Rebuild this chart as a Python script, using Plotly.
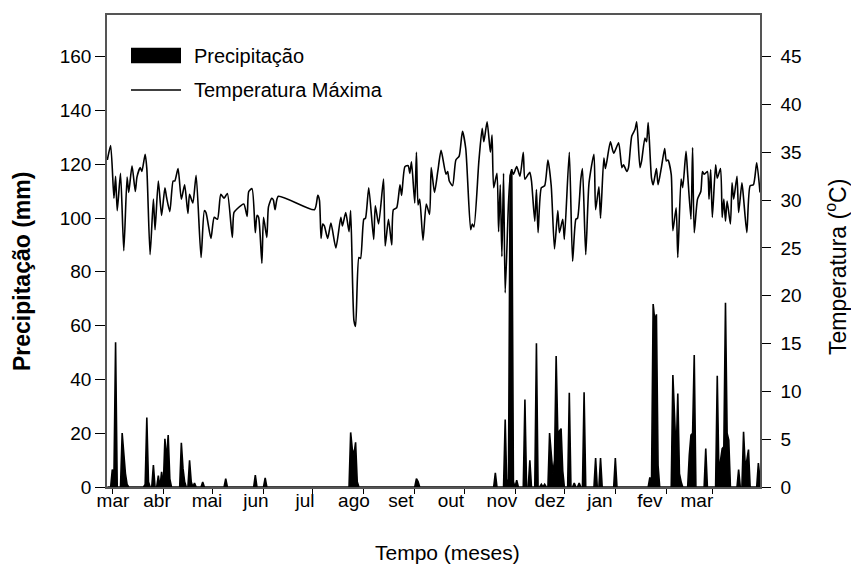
import pandas as pd
import plotly.graph_objects as go

# ---------------- data ----------------
# day offsets counted from 1 March (first year)
temp_days = [-3, -1, 1, 2, 3, 5, 7, 9, 10, 12, 14, 15, 17, 18, 20, 21, 23, 25, 26, 28,
             30, 32, 33, 35, 37, 38, 40, 42, 44, 46, 47, 49, 51, 54, 56, 57, 60, 62, 64, 66,
             68, 70, 73, 74, 76, 80, 82, 83, 85, 87, 88, 89, 91, 92, 94, 95, 97, 98, 99, 101,
             123, 125, 126, 127, 128, 129, 131, 133, 136, 139, 140, 142, 144, 145, 147, 148, 150, 151, 153, 154,
             156, 159, 160, 162, 165, 166, 168, 170, 171, 173, 175, 176, 178, 180, 181, 182, 184, 185, 186, 187,
             189, 191, 193, 194, 196, 198, 200, 203, 204, 205, 207, 209, 211, 213, 215, 218, 219, 220, 223, 225,
             226, 228, 230, 231, 232, 234, 235, 236, 237, 238, 239, 241, 242, 243, 244, 246, 248, 250, 251, 253,
             254, 255, 257, 258, 259, 261, 263, 265, 267, 269, 271, 272, 274, 275, 278, 280, 282, 283, 285, 286,
             288, 290, 293, 294, 296, 297, 299, 300, 303, 305, 308, 310, 311, 313, 314, 316, 318, 319, 321, 322,
             324, 325, 326, 328, 329, 331, 332, 334, 336, 337, 338, 340, 341, 343, 344, 346, 347, 349, 350, 352,
             353, 354, 356, 358, 359, 360, 362, 363, 364, 365, 367, 368, 370, 371, 372, 373, 374, 376, 377, 378,
             380, 381, 383, 384, 386, 388, 390, 392, 394]
temp_vals = [34.2, 35.7, 30.2, 32.5, 28.9, 32.8, 24.7, 32.4, 30.8, 33.6, 30.9, 32.4, 33.4, 33.0, 34.8, 33.3, 24.3, 30.1, 26.9, 32.0,
             28.4, 31.3, 30.3, 28.8, 32.0, 32.0, 33.3, 30.1, 31.6, 28.6, 30.6, 29.7, 32.6, 24.0, 28.9, 28.7, 26.0, 28.2, 28.0, 30.6,
             30.2, 30.7, 26.1, 28.7, 29.1, 29.6, 28.3, 30.9, 31.2, 26.6, 28.4, 28.2, 23.4, 28.2, 26.1, 29.3, 30.2, 30.0, 29.0, 30.4,
             29.0, 30.5, 30.0, 26.0, 27.5, 27.3, 26.0, 27.6, 25.0, 28.2, 27.3, 28.7, 26.7, 28.9, 17.4, 16.8, 24.0, 23.9, 28.0, 28.1,
             31.3, 25.9, 29.4, 27.5, 32.2, 25.2, 28.0, 25.3, 29.0, 29.2, 31.6, 30.5, 33.5, 33.6, 32.8, 34.0, 29.7, 35.0, 29.5, 30.1,
             25.8, 29.6, 28.5, 33.4, 30.8, 33.0, 35.2, 32.7, 33.0, 32.0, 31.5, 34.2, 34.6, 37.2, 35.4, 26.9, 27.5, 27.2, 34.1, 37.5,
             36.1, 38.2, 35.0, 36.8, 31.3, 32.8, 26.7, 31.6, 24.1, 32.8, 20.3, 29.7, 32.3, 33.1, 32.7, 33.5, 32.5, 35.0, 32.2, 32.7,
             32.9, 32.0, 27.8, 31.1, 26.6, 31.3, 31.5, 34.2, 31.5, 24.9, 28.9, 26.6, 28.0, 25.9, 35.0, 23.6, 28.0, 28.1, 32.2, 33.3,
             24.3, 31.8, 34.8, 29.0, 31.4, 28.1, 34.4, 33.3, 36.1, 34.9, 36.0, 33.4, 33.7, 33.0, 33.4, 36.7, 37.4, 38.2, 33.4, 34.1,
             36.5, 36.1, 38.1, 32.3, 31.6, 33.3, 31.6, 33.4, 35.4, 34.1, 34.2, 32.7, 26.8, 29.2, 24.0, 32.2, 31.3, 35.1, 32.7, 28.0,
             35.5, 26.6, 30.1, 30.9, 33.0, 32.7, 33.0, 30.1, 33.2, 28.2, 33.7, 32.3, 33.3, 28.2, 30.1, 27.8, 29.9, 27.5, 31.8, 30.1,
             32.5, 28.7, 31.8, 30.2, 26.6, 31.5, 31.6, 33.9, 30.8]

# rainy days (all other days: 0 mm)
rain_days = [0, 1, 2, 6, 7, 8, 9, 20, 21, 22, 25, 28, 30, 32, 33, 34, 35, 42, 43, 44,
             47, 48, 50, 55, 69, 87, 93, 145, 146, 147, 148, 149, 185, 186, 233, 239, 241, 242, 243, 244,
             246, 251, 254, 258, 261, 263, 266, 267, 268, 269, 270, 271, 272, 273, 274, 278, 281, 284, 287, 294,
             297, 306, 327, 328, 329, 330, 331, 332, 341, 342, 343, 344, 345, 346, 351, 352, 353, 354, 361, 368,
             369, 370, 371, 372, 373, 374, 375, 381, 384, 385, 386, 387, 393, 394]
rain_vals = [6.5, 4.0, 53.8, 20.1, 12.0, 5.0, 1.0, 1.0, 25.8, 2.0, 8.2, 4.2, 5.6, 17.9, 10.0, 19.3, 3.0, 16.4, 7.0, 2.0,
             9.9, 2.0, 1.5, 1.9, 3.1, 4.4, 3.4, 20.3, 14.0, 12.0, 16.6, 2.0, 3.1, 2.0, 5.3, 25.1, 3.0, 115.8, 118.2, 2.0,
             2.5, 32.5, 9.9, 53.4, 1.0, 1.0, 20.1, 12.0, 5.0, 10.0, 48.7, 20.0, 21.0, 21.7, 6.0, 35.0, 1.5, 1.5, 35.2, 10.8,
             10.8, 10.8, 3.6, 1.0, 68.0, 62.0, 64.2, 8.0, 41.6, 25.0, 12.0, 34.8, 5.0, 2.0, 12.0, 19.3, 20.0, 49.1, 14.3, 41.4,
             5.0, 10.0, 14.3, 15.0, 68.5, 20.0, 17.4, 6.5, 20.5, 8.0, 10.0, 13.9, 8.9, 3.0]

month_labels = ["mar", "abr", "mai", "jun", "jul", "ago", "set", "out", "nov", "dez", "jan", "fev", "mar"]
# where the month labels sit in the reference (day offsets, they drift left of the ticks)
label_days = [0.4, 27.2, 57.6, 87.4, 117.2, 147.0, 175.6, 206.0, 237.0, 266.2, 296.6, 327.0, 355.6]

# ---------------- build series ----------------
origin = pd.Timestamp("2009-03-01")
temp_dates = [origin + pd.Timedelta(days=d) for d in temp_days]

all_days = list(range(-3, 395))
rain_map = dict(zip(rain_days, rain_vals))
rain_series = [rain_map.get(d, 0.0) for d in all_days]
rain_dates = [origin + pd.Timedelta(days=d) for d in all_days]

month_ticks = list(pd.date_range("2009-03-01", "2010-03-01", freq="MS"))
label_dates = [origin + pd.Timedelta(days=d) for d in label_days]

FONT = "Liberation Sans, Arial, sans-serif"
AXC = "#555555"
xrange = [origin - pd.Timedelta(days=3.22), origin + pd.Timedelta(days=394.0)]

fig = go.Figure()
fig.add_trace(go.Scatter(
    x=rain_dates, y=rain_series, name="Precipitação", mode="lines",
    line=dict(color="black", width=1.6), fill="tozeroy", fillcolor="black",
    showlegend=False, xaxis="x", yaxis="y"))
fig.add_trace(go.Scatter(
    x=temp_dates, y=temp_vals, name="Temperatura Máxima", mode="lines",
    line=dict(color="black", width=1.6, shape="spline", smoothing=0.6),
    showlegend=False, xaxis="x", yaxis="y2"))
# an invisible trace so that xaxis2 (month labels) is drawn
fig.add_trace(go.Scatter(x=[label_dates[0]], y=[None], xaxis="x2", yaxis="y",
                         mode="lines", showlegend=False, hoverinfo="skip"))

ytop = 175.5
fig.update_layout(
    width=851, height=569,
    margin=dict(l=107, r=91, t=15, b=82),
    paper_bgcolor="white", plot_bgcolor="white",
    font=dict(family=FONT, size=19, color="black"),
    xaxis=dict(
        type="date", range=xrange,
        tickvals=month_ticks, showticklabels=False,
        ticks="outside", ticklen=5, tickcolor="black", tickwidth=1,
        showline=True, linecolor=AXC, linewidth=1.5, mirror=True,
        showgrid=False, zeroline=False,
    ),
    xaxis2=dict(
        type="date", range=xrange, overlaying="x", anchor="y", side="bottom",
        tickvals=label_dates, ticktext=month_labels, ticks="",
        showline=False, showgrid=False, zeroline=False,
        tickfont=dict(size=19),
    ),
    yaxis=dict(
        range=[0, ytop], tickvals=list(range(0, 161, 20)),
        ticks="outside", ticklen=10, tickcolor="black", tickwidth=1,
        showline=True, linecolor=AXC, linewidth=1.5,
        showgrid=False, zeroline=False,
        tickfont=dict(size=19),
    ),
    yaxis2=dict(
        range=[0, ytop * 45 / 160], tickvals=list(range(0, 46, 5)),
        overlaying="y", side="right",
        ticks="outside", ticklen=9, tickcolor="black", tickwidth=1,
        ticklabelstandoff=6,
        showline=True, linecolor=AXC, linewidth=1.5,
        showgrid=False, zeroline=False,
        tickfont=dict(size=19),
    ),
)


def px_x(px):
    return (px - 107) / 653.0


def px_y(py):
    return (487 - py) / 472.0


# axis titles
fig.add_annotation(xref="paper", yref="paper", x=px_x(447), y=px_y(552),
                   text="Tempo (meses)", showarrow=False,
                   xanchor="center", yanchor="middle", font=dict(size=21, family=FONT))
fig.add_annotation(xref="paper", yref="paper", x=px_x(22), y=px_y(271),
                   text="<b>Precipitação (mm)</b>", textangle=-90, showarrow=False,
                   xanchor="center", yanchor="middle", font=dict(size=23, family=FONT))
fig.add_annotation(xref="paper", yref="paper", x=px_x(836), y=px_y(267),
                   text="Temperatura (<sup>o</sup>C)", textangle=-90, showarrow=False,
                   xanchor="center", yanchor="middle", font=dict(size=23, family=FONT))

# legend (drawn to match the reference's large symbols)
fig.add_shape(type="rect", xref="paper", yref="paper",
              x0=px_x(131), x1=px_x(181), y0=px_y(63.3), y1=px_y(47.7),
              fillcolor="black", line=dict(width=0))
fig.add_shape(type="line", xref="paper", yref="paper",
              x0=px_x(131), x1=px_x(181), y0=px_y(90), y1=px_y(90),
              line=dict(color="black", width=1.6))
fig.add_annotation(xref="paper", yref="paper", x=px_x(192), y=px_y(55.5),
                   text="Precipitação", showarrow=False, xanchor="left", yanchor="middle",
                   font=dict(size=20, family=FONT))
fig.add_annotation(xref="paper", yref="paper", x=px_x(192), y=px_y(90),
                   text="Temperatura Máxima", showarrow=False, xanchor="left", yanchor="middle",
                   font=dict(size=20, family=FONT))

fig.write_html("out.html")
